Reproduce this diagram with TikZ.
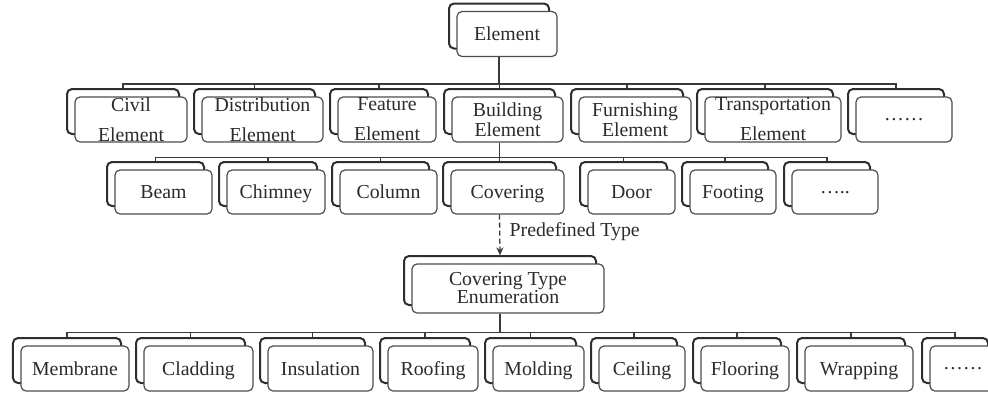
\documentclass[tikz,border=0pt]{standalone}
\usepackage{fontspec}
\setmainfont{Liberation Serif}
\usetikzlibrary{arrows.meta,shadows}
\definecolor{frontline}{HTML}{4D4D4D}
\definecolor{backline}{HTML}{2E2E2E}
\definecolor{linkline}{HTML}{3A3A3A}
\definecolor{labeltext}{HTML}{2B2B2B}
\tikzset{
  elem/.style={draw=frontline, line width=1.2bp, fill=white,
    rounded corners=5bp, minimum height=45bp,
    inner xsep=0pt, inner ysep=0pt, align=center, text depth=0pt,
    text=labeltext, font=\fontsize{19.8bp}{20bp}\selectfont,
    copy shadow={shadow xshift=-8bp, shadow yshift=8bp,
      draw=backline, line width=2bp, fill=white}},
  two/.style={text depth={}},
  link/.style={draw=linkline, line width=1.3bp},
  typeof/.style={link, dash pattern=on 5bp off 3bp,
    -{Stealth[length=8bp,width=7bp]}},
}

\begin{document}
\begin{tikzpicture}[x=1bp,y=-1bp]
  \useasboundingbox (0,0) rectangle (988,395);
  \clip (0,0) rectangle (988,395);

  % root
  \node[elem, minimum width=100bp] (elem) at (507,34) {Element};

  % element subtypes
  \node[elem, two, minimum width=112bp] (civil) at (131,119.5) {Civil\\[10bp]Element};
  \node[elem, two, minimum width=121bp] (dist)  at (262.5,119.5) {Distribution\\[10bp]Element};
  \node[elem, two, minimum width=98bp]  (feat)  at (387,119.5) {Feature\\[10bp]Element};
  \node[elem, two, minimum width=111bp] (bldg)  at (507.5,119.5) {Building\\Element};
  \node[elem, two, minimum width=112bp] (furn)  at (635,119.5) {Furnishing\\Element};
  \node[elem, two, minimum width=136bp] (trans) at (773,119.5) {Transportation\\[10bp]Element};
  \node[elem, minimum width=96bp] (more1) at (904,119.5) {……};

  % building element subtypes
  \node[elem, minimum height=44bp, minimum width=97bp]  (beam)  at (163.5,192) {Beam};
  \node[elem, minimum height=44bp, minimum width=98bp]  (chim)  at (276,192) {Chimney};
  \node[elem, minimum height=44bp, minimum width=97bp]  (col)   at (388.5,192) {Column};
  \node[elem, minimum height=44bp, minimum width=113bp] (cov)   at (507.5,192) {Covering};
  \node[elem, minimum height=44bp, minimum width=87bp]  (door)  at (631.5,192) {Door};
  \node[elem, minimum height=44bp, minimum width=86bp]  (foot)  at (733,192) {Footing};
  \node[elem, minimum height=44bp, minimum width=86bp]  (more2) at (835,192) {…..};

  % enumeration
  \node[elem, two, minimum height=49bp, minimum width=192bp] (covty) at (508,288.5)
    {Covering Type\\[-2bp]Enumeration};

  % enumeration values
  \node[elem, minimum width=108bp] (memb)  at (75,368.5) {Membrane};
  \node[elem, minimum width=109bp] (clad)  at (198.5,368.5) {Cladding};
  \node[elem, minimum width=105bp] (insu)  at (320.5,368.5) {Insulation};
  \node[elem, minimum width=90bp]  (roof)  at (433,368.5) {Roofing};
  \node[elem, minimum width=91bp]  (mold)  at (538.5,368.5) {Molding};
  \node[elem, minimum width=86bp]  (ceil)  at (642,368.5) {Ceiling};
  \node[elem, minimum width=88bp]  (floor) at (745,368.5) {Flooring};
  \node[elem, minimum width=108bp] (wrap)  at (859,368.5) {Wrapping};
  \node[elem, minimum width=66bp]  (more3) at (963,368.5) {……};

  % tree links
  \foreach \c in {civil,dist,feat,bldg,furn,trans,more1}
    \draw[link] ([xshift=-8bp]elem.south) -- ++(0,27) -| ([shift={(-8bp,8bp)}]\c.north);
  \foreach \c in {beam,chim,col,cov,door,foot,more2}
    \draw[link] ([xshift=-8bp]bldg.south) -- ++(0,15) -| ([shift={(-8bp,8bp)}]\c.north);
  \foreach \c in {memb,clad,insu,roof,mold,ceil,floor,wrap,more3}
    \draw[link] ([xshift=-8bp]covty.south) -- ++(0,19) -| ([shift={(-8bp,8bp)}]\c.north);

  \draw[typeof] ([xshift=-8bp]cov.south) -- ([shift={(-8bp,8bp)}]covty.north)
    node[pos=0.42, anchor=west, xshift=6bp, text=labeltext,
      font=\fontsize{19.8bp}{20bp}\selectfont] (ptype) {Predefined Type};
\end{tikzpicture}
\end{document}
